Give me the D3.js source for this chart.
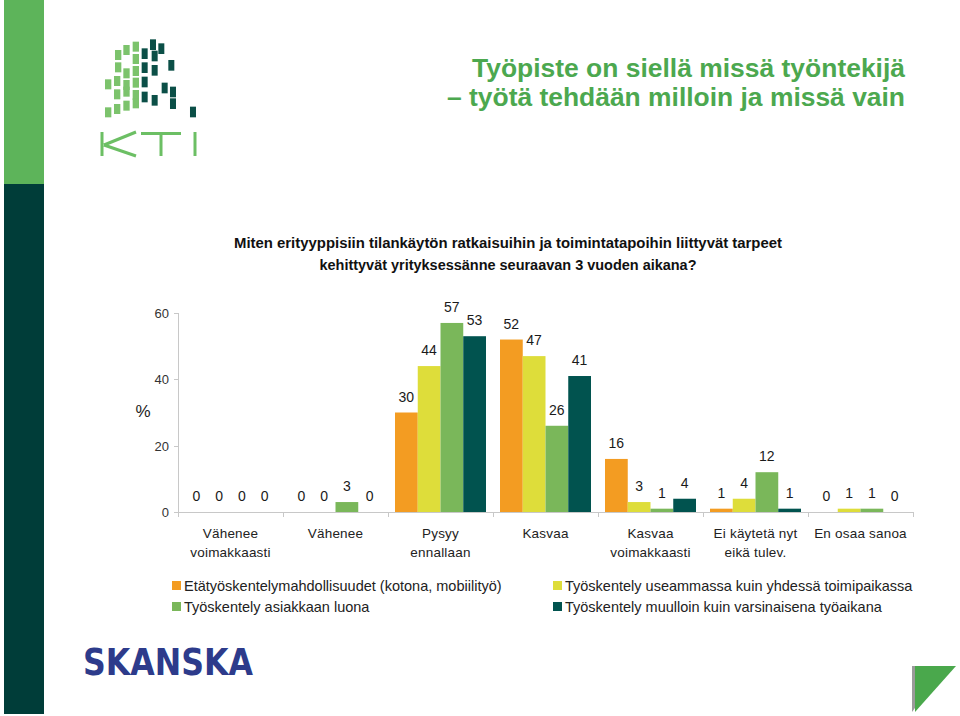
<!DOCTYPE html>
<html><head><meta charset="utf-8">
<script src="https://cdn.jsdelivr.net/npm/d3@7"></script>
<style>body{margin:0;background:#fff}svg{display:block}text{font-family:Arial,"Liberation Sans",sans-serif}</style>
</head><body>
<script>
const categories = [["Vähenee","voimakkaasti"],["Vähenee"],["Pysyy","ennallaan"],["Kasvaa"],["Kasvaa","voimakkaasti"],["Ei käytetä nyt","eikä tulev."],["En osaa sanoa"]];
const seriesNames = ["Etätyöskentelymahdollisuudet (kotona, mobiilityö)","Työskentely useammassa kuin yhdessä toimipaikassa","Työskentely asiakkaan luona","Työskentely muulloin kuin varsinaisena työaikana"];
const seriesColors = ["#f39c22","#dedd3a","#7ab75a","#01534f"];
const s1 = [0,0,30,52,16,1,0];
const s2 = [0,0,44,47,3,4,1];
const s3 = [0,3,57,26,1,12,1];
const s4 = [0,0,53,41,4,1,0];
const yTicks = [0,20,40,60];
const allSeries = [s1,s2,s3,s4];

const W=960,H=716;
const svg=d3.select("body").append("svg").attr("width",W).attr("height",H);

// side stripe
svg.append("rect").attr("x",4).attr("y",0).attr("width",40).attr("height",184).attr("fill","#5db45a");
svg.append("rect").attr("x",4).attr("y",184).attr("width",40).attr("height",530).attr("fill","#003d39");

// KTI logo squares
const g1="#7cc36c", g2="#0b4f47";
const lg=svg.append("g").attr("transform","translate(90,30) scale(0.3333)");
const greens=[[128,35],[100,45],[75,60],[128,72],[75,97],[128,108],[100,115],[45,148],[72,138],[100,150],[128,143],[72,178],[100,170],[128,180],[128,205],[100,212],[72,222],[45,232]];
const darks=[[180,28],[205,40],[155,55],[185,62],[235,90],[155,97],[185,105],[155,140],[215,158],[240,170],[155,185],[185,195],[240,205],[300,230]];
greens.forEach(d=>lg.append("rect").attr("x",d[0]).attr("y",d[1]).attr("width",19).attr("height",30).attr("fill",g1));
darks.forEach(d=>lg.append("rect").attr("x",d[0]).attr("y",d[1]).attr("width",18).attr("height",32).attr("fill",g2));
const kti=svg.append("g").attr("stroke","#6cbf64").attr("stroke-width",3).attr("fill","none");
kti.append("path").attr("d","M102,132V156M104,145L136,132M104,145L136,156");
kti.append("path").attr("d","M141,133.5H181M161,133.5V156");
kti.append("path").attr("d","M195,132V156");

// titles
const title=svg.append("g").attr("fill","#4ca84f").attr("font-weight","bold").attr("font-size",25).attr("text-anchor","end");
title.append("text").attr("x",905).attr("y",77).attr("textLength",433).attr("lengthAdjust","spacingAndGlyphs").text("Työpiste on siellä missä työntekijä");
title.append("text").attr("x",905).attr("y",106).attr("textLength",458).attr("lengthAdjust","spacingAndGlyphs").text("– työtä tehdään milloin ja missä vain");

const sub=svg.append("g").attr("fill","#111").attr("font-weight","bold").attr("font-size",14).attr("text-anchor","middle").style("font-family","'Liberation Sans Narrow',Arial,sans-serif");
sub.append("text").attr("x",508).attr("y",248).attr("textLength",548).attr("lengthAdjust","spacingAndGlyphs").text("Miten erityyppisiin tilankäytön ratkaisuihin ja toimintatapoihin liittyvät tarpeet");
sub.append("text").attr("x",508).attr("y",270).attr("textLength",377).attr("lengthAdjust","spacingAndGlyphs").text("kehittyvät yrityksessänne seuraavan 3 vuoden aikana?");

// chart
const x0=d3.scaleBand().domain(d3.range(categories.length)).range([178,913]).padding(0);
const x1=d3.scaleBand().domain(d3.range(4)).range([7,98]).padding(0);
const y=d3.scaleLinear().domain([0,60]).range([512,313]);

// axes
const ax=svg.append("g").attr("stroke","#c8c8c8").attr("stroke-width",1);
ax.append("line").attr("x1",178.5).attr("x2",178.5).attr("y1",y(60)).attr("y2",y(0));
yTicks.forEach(t=>ax.append("line").attr("x1",174).attr("x2",178.5).attr("y1",Math.round(y(t))+0.5).attr("y2",Math.round(y(t))+0.5));
ax.append("line").attr("x1",178).attr("x2",913).attr("y1",512.5).attr("y2",512.5);
d3.range(categories.length+1).forEach(i=>{const xx=Math.round(i<categories.length?x0(i):913)+0.5;ax.append("line").attr("x1",xx).attr("x2",xx).attr("y1",512).attr("y2",517);});

svg.append("g").selectAll("text").data(yTicks).join("text").attr("x",169).attr("y",d=>y(d)+5).attr("text-anchor","end").attr("font-size",13).attr("fill","#333").text(d=>d);
svg.append("text").attr("x",143).attr("y",417).attr("text-anchor","middle").attr("font-size",17).attr("fill","#222").text("%");

// bars
allSeries.forEach((s,si)=>{
  const g=svg.append("g");
  g.selectAll("rect").data(s).join("rect")
    .attr("x",(d,i)=>x0(i)+x1(si)).attr("width",x1.bandwidth())
    .attr("y",d=>y(d)).attr("height",d=>y(0)-y(d)).attr("fill",seriesColors[si]);
  g.selectAll("text").data(s).join("text")
    .attr("x",(d,i)=>x0(i)+x1(si)+x1.bandwidth()/2).attr("y",d=>y(d)-11)
    .attr("text-anchor","middle").attr("font-size",14).attr("fill","#1a1a1a").text(d=>d);
});

// category labels
const cl=svg.append("g").attr("font-size",13.5).attr("fill","#222").attr("text-anchor","middle").attr("letter-spacing",0.2);
categories.forEach((c,i)=>{
  c.forEach((line,j)=>cl.append("text").attr("x",x0(i)+x0.bandwidth()/2).attr("y",538+j*18.5).text(line));
});

// legend
const legPos=[[172,581],[553,581],[172,602],[553,602]];
seriesNames.forEach((n,i)=>{
  svg.append("rect").attr("x",legPos[i][0]).attr("y",legPos[i][1]).attr("width",9).attr("height",9).attr("fill",seriesColors[i]);
  svg.append("text").attr("x",legPos[i][0]+12).attr("y",legPos[i][1]+10).attr("font-size",14.5).attr("fill","#222").text(n);
});

// SKANSKA
svg.append("text").attr("x",83).attr("y",675).attr("font-size",37).attr("font-weight","bold").attr("fill","#2d3b8b")
  .style("font-family","'DejaVu Sans',Arial,sans-serif").attr("textLength",170).attr("lengthAdjust","spacingAndGlyphs").text("SKANSKA");

// corner triangle
svg.append("polygon").attr("points","912,666 946,666 912,712").attr("fill","#9a9a9a");
svg.append("polygon").attr("points","915,666 956,666 915,712").attr("fill","#4aa84c");
</script>
</body></html>
